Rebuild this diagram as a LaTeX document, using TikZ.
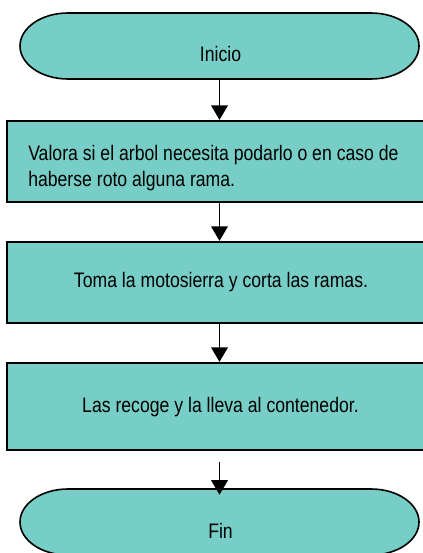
\documentclass[tikz,border=0pt]{standalone}
\usepackage{fontspec}
\setmainfont{Liberation Sans}[FakeStretch=0.84]
\usetikzlibrary{arrows.meta,fit}
\definecolor{teal1}{RGB}{118,206,198}
\tikzset{
  box/.style={draw=black, fill=teal1, line width=1.6pt, inner sep=0pt},
  term/.style={draw=black, fill=teal1, line width=1.2pt},
  txt/.style={inner sep=0pt, font=\fontsize{15.75}{19.5}\selectfont},
  arr/.style={line width=1.4pt, -{Triangle[width=12.5pt,length=11pt]}},
  ghost/.style={draw=none, inner sep=0pt}
}
\begin{document}
\begin{tikzpicture}[x=0.75pt,y=-0.75pt]
\useasboundingbox (0,0) rectangle (423,553);
\clip (0,0) rectangle (423,553);
% Inicio terminal
\path[term] (68,13) -- (371,13) arc[start angle=-90,end angle=90,x radius=48,y radius=33]
  -- (68,79) arc[start angle=90,end angle=270,x radius=48,y radius=33] -- cycle;
\node[ghost, fit={(20,13) (419,79)}] (ini) {};
\node[txt, anchor=base] (initxt) at (220.5,61) {Inicio};
% Box 1
\node[box, fit={(7,121) (432,202)}] (b1) {};
\node[txt, anchor=base west] (b1l1) at (28,160) {Valora si el arbol necesita podarlo o en caso de};
\node[txt, anchor=base west] (b1l2) at (28,186) {haberse roto alguna rama.};
% Box 2
\node[box, fit={(7,242) (432,323)}] (b2) {};
\node[txt, anchor=base] (b2t) at (221,287) {Toma la motosierra y corta las ramas.};
% Box 3
\node[box, fit={(7,363) (432,450)}] (b3) {};
\node[txt, anchor=base] (b3t) at (220.5,412) {Las recoge y la lleva al contenedor.};
% Fin terminal
\path[term] (68,489) -- (371,489) arc[start angle=-90,end angle=90,x radius=48,y radius=33]
  -- (68,555) arc[start angle=90,end angle=270,x radius=48,y radius=33] -- cycle;
\node[ghost, fit={(20,489) (419,555)}] (fin) {};
\node[txt, anchor=base] (fintxt) at (220.5,538) {Fin};
% connectors
\coordinate (c4) at (219.5,462);
\draw[arr] (ini.south) -- (ini.south |- b1.north);
\draw[arr] (ini.south |- b1.south) -- (ini.south |- b2.north);
\draw[arr] (ini.south |- b2.south) -- (ini.south |- b3.north);
\draw[arr, shorten >=-4.5pt] (c4) -- (c4 |- fin.north);
\end{tikzpicture}
\end{document}
